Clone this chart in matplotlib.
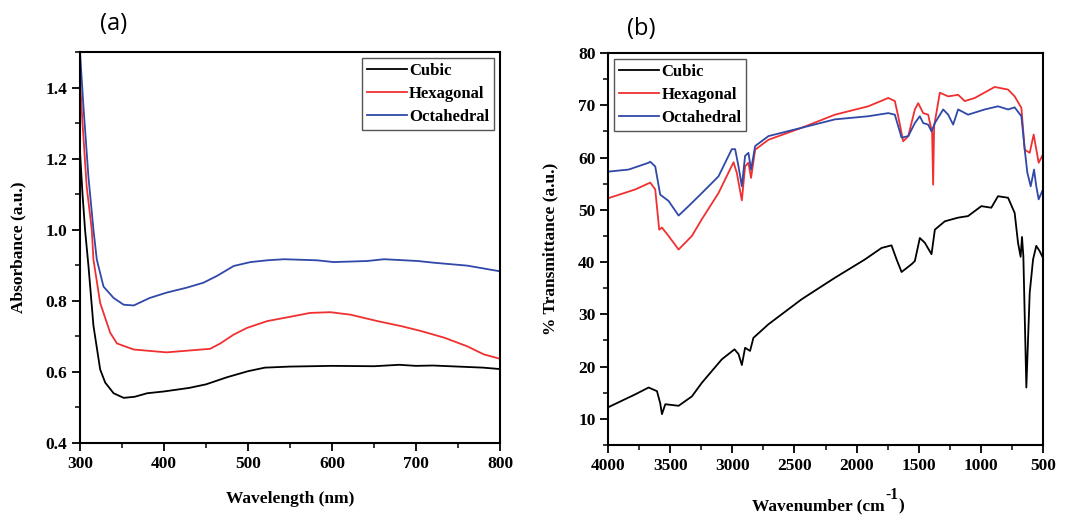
import matplotlib
matplotlib.use("Agg")
import matplotlib.pyplot as plt
from matplotlib.ticker import MultipleLocator

plt.rcParams['font.family'] = ['Liberation Serif', 'DejaVu Serif']
plt.rcParams['font.weight'] = 'bold'

labels = ["Cubic", "Hexagonal", "Octahedral"]
colors = ["#000000", "#f03030", "#3048a8"]

# ---- Panel (a): UV-Vis absorbance ----
wl_cubic = [300, 303, 306, 310, 316, 324, 330, 340, 352, 365, 380, 400, 430, 450, 475, 500, 520, 550,
            600, 650, 680, 700, 720, 750, 780, 800]
abs_cubic = [1.22, 1.10, 1.00, 0.90, 0.73, 0.607, 0.57, 0.54, 0.527, 0.53, 0.54, 0.545, 0.555, 0.565,
             0.585, 0.602, 0.612, 0.615, 0.617, 0.616, 0.62, 0.617, 0.618, 0.615, 0.612, 0.608]

wl_hex = [300, 303, 308, 314, 316, 324, 336, 344, 364, 403, 455, 467, 483, 499, 523, 550, 574, 598,
          622, 654, 682, 706, 734, 761, 781, 800]
abs_hex = [1.42, 1.30, 1.12, 1.00, 0.916, 0.794, 0.71, 0.68, 0.663, 0.655, 0.665, 0.68, 0.705, 0.724,
           0.743, 0.755, 0.766, 0.768, 0.761, 0.743, 0.729, 0.715, 0.696, 0.672, 0.649, 0.637]

wl_oct = [300, 304, 310, 316, 320, 328, 340, 352, 364, 383, 403, 427, 447, 463, 483, 503, 523, 543,
          582, 602, 642, 662, 702, 722, 761, 800]
abs_oct = [1.50, 1.35, 1.15, 1.00, 0.916, 0.84, 0.808, 0.789, 0.787, 0.808, 0.823, 0.837, 0.851, 0.87,
           0.898, 0.909, 0.914, 0.917, 0.914, 0.909, 0.912, 0.917, 0.912, 0.907, 0.899, 0.883]

# ---- Panel (b): FTIR transmittance ----
wn_cubic = [4000, 3780, 3673, 3606, 3580, 3566, 3539, 3432, 3325, 3245, 3084, 2982, 2950, 2923, 2897,
            2857, 2830, 2709, 2441, 2174, 1933, 1799, 1719, 1678, 1638, 1557, 1531, 1491, 1451, 1397,
            1370, 1290, 1183, 1103, 996, 916, 862, 781, 728, 701, 680, 669, 658, 634, 607, 580, 554,
            527, 500]
tr_cubic = [12.2, 14.7, 16.0, 15.3, 13.0, 10.9, 12.8, 12.5, 14.3, 16.9, 21.4, 23.3, 22.4, 20.3, 23.6,
            23.0, 25.5, 28.1, 32.9, 37.0, 40.5, 42.7, 43.2, 40.5, 38.1, 39.6, 40.2, 44.6, 43.7, 41.5,
            46.2, 47.8, 48.5, 48.8, 50.7, 50.4, 52.6, 52.3, 49.4, 43.7, 41.0, 44.8, 41.1, 16.0, 34.1,
            40.5, 43.1, 42.1, 40.8]

wn_hex = [4000, 3780, 3660, 3620, 3588, 3566, 3513, 3432, 3325, 3245, 3111, 2990, 2964, 2923, 2897,
          2870, 2849, 2816, 2709, 2441, 2174, 1906, 1745, 1692, 1665, 1625, 1584, 1531, 1504, 1464,
          1424, 1392, 1384, 1376, 1330, 1263, 1183, 1129, 1049, 889, 781, 728, 674, 647, 607, 575,
          535, 500]
tr_hex = [52.2, 53.9, 55.2, 53.9, 46.2, 46.6, 45.0, 42.4, 45.0, 48.2, 53.2, 59.1, 57.1, 51.8, 58.3,
          59.0, 56.1, 61.5, 63.4, 65.7, 68.2, 69.8, 71.4, 70.8, 67.9, 63.1, 64.1, 69.2, 70.4, 68.5,
          68.2, 64.7, 54.8, 66.0, 72.4, 71.7, 72.0, 70.8, 71.4, 73.5, 73.0, 71.7, 69.5, 61.5, 60.9,
          64.4, 59.0, 60.6]

wn_oct = [4000, 3834, 3673, 3660, 3620, 3580, 3513, 3432, 3352, 3245, 3111, 3004, 2977, 2950, 2923,
          2897, 2870, 2849, 2816, 2709, 2441, 2174, 1906, 1745, 1692, 1665, 1638, 1584, 1531, 1491,
          1464, 1424, 1397, 1370, 1303, 1263, 1223, 1183, 1103, 969, 862, 781, 728, 674, 647, 626,
          599, 572, 554, 535, 500]
tr_oct = [57.3, 57.7, 59.0, 59.2, 58.3, 52.9, 51.7, 48.9, 50.7, 53.2, 56.4, 61.6, 61.6, 58.3, 54.5,
          60.3, 60.9, 57.7, 62.2, 64.1, 65.7, 67.3, 67.9, 68.5, 68.2, 66.0, 63.8, 64.1, 66.6, 67.9,
          66.6, 66.3, 65.0, 66.6, 69.2, 68.2, 66.3, 69.2, 68.2, 69.2, 69.8, 69.2, 69.6, 67.9, 61.5,
          57.1, 54.5, 57.7, 54.5, 52.0, 53.9]

W, H = 1075, 519
fig = plt.figure(figsize=(W / 100, H / 100), dpi=100)
axa = fig.add_axes([80 / W, 1 - 443 / H, 420 / W, 391 / H])
axb = fig.add_axes([608 / W, 1 - 445 / H, 435 / W, 392 / H])

FS = 12.5

def style(ax):
    for s in ax.spines.values():
        s.set_linewidth(1.5)
    ax.tick_params(which='major', direction='out', length=6, width=1.3, labelsize=FS, pad=3)
    ax.tick_params(which='minor', direction='out', length=3.5, width=1.1)
    ax.tick_params(top=False, right=False)
    for lab in ax.get_xticklabels() + ax.get_yticklabels():
        lab.set_fontweight('bold')

leg_kw = dict(frameon=True, fancybox=False, edgecolor='#555555', framealpha=1,
              handlelength=2.4, handletextpad=0.15, borderpad=0.3, labelspacing=0.42,
              borderaxespad=0.35, prop={'weight': 'bold', 'size': 12})

lw = 1.3
axa.plot(wl_cubic, abs_cubic, color=colors[0], lw=lw, label=labels[0])
axa.plot(wl_hex, abs_hex, color=colors[1], lw=lw, label=labels[1])
axa.plot(wl_oct, abs_oct, color=colors[2], lw=lw, label=labels[2])
axa.set_xlim(300, 800)
axa.set_ylim(0.4, 1.5)
axa.xaxis.set_major_locator(MultipleLocator(100))
axa.xaxis.set_minor_locator(MultipleLocator(50))
axa.yaxis.set_major_locator(MultipleLocator(0.2))
axa.yaxis.set_minor_locator(MultipleLocator(0.1))
axa.set_xlabel("Wavelength (nm)", fontsize=FS, fontweight='bold', labelpad=14)
axa.set_ylabel("Absorbance (a.u.)", fontsize=FS, fontweight='bold', labelpad=14)
style(axa)
axa.legend(loc='upper right', **leg_kw)

axb.plot(wn_cubic, tr_cubic, color=colors[0], lw=lw, label=labels[0])
axb.plot(wn_hex, tr_hex, color=colors[1], lw=lw, label=labels[1])
axb.plot(wn_oct, tr_oct, color=colors[2], lw=lw, label=labels[2])
axb.set_xlim(4000, 500)
axb.set_ylim(5, 80)
axb.xaxis.set_major_locator(MultipleLocator(500))
axb.xaxis.set_minor_locator(MultipleLocator(250))
axb.yaxis.set_major_locator(MultipleLocator(10))
axb.yaxis.set_minor_locator(MultipleLocator(5))
axb.set_ylabel("% Transmittance (a.u.)", fontsize=FS, fontweight='bold', labelpad=14)
style(axb)
axb.legend(loc='upper left', **leg_kw)

# x label of panel (b) with a full-size raised superscript
parts = [("Wavenumber (cm", FS, 0), ("-1", FS * 0.9, 11), (")", FS, 0)]
texts = [fig.text(0, 0, s, fontsize=f, fontweight='bold', va='baseline', ha='left') for s, f, _ in parts]
fig.canvas.draw()
renderer = fig.canvas.get_renderer()
widths = [t.get_window_extent(renderer).width for t in texts]
x = 828 - sum(widths) / 2
base = 510
for t, w, (_, _, dy) in zip(texts, widths, parts):
    t.set_position((x / W, 1 - (base - dy) / H))
    x += w

fig.text(114 / W, 1 - 24 / H, "(a)", fontsize=17, family=['Open Sans', 'DejaVu Sans'],
         fontweight='normal', ha='center', va='center')
fig.text(641 / W, 1 - 29 / H, "(b)", fontsize=17, family=['Open Sans', 'DejaVu Sans'],
         fontweight='normal', ha='center', va='center')

fig.savefig("out.png", dpi=100)
